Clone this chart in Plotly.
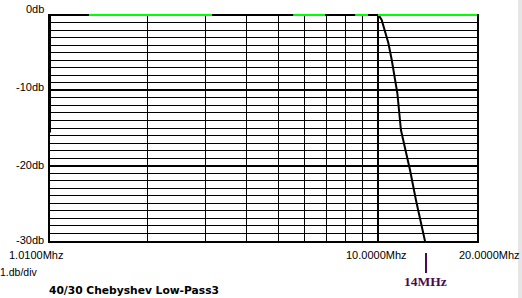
import math
import plotly.graph_objects as go

# ---------------- data ----------------
curve_freq_mhz = [1.01, 3.0, 6.0, 9.0, 10.05, 10.27, 10.51, 10.76, 11.02, 11.46, 11.75, 12.52, 13.05, 13.95]
curve_db = [0.0, 0.0, 0.0, 0.0, 0.0, -0.66, -2.22, -3.72, -5.97, -10.39, -15.27, -20.58, -24.56, -30.3]

# 0 db reference (green) segments
green_start_mhz = [1.326, 5.53, 8.53, 10.01]
green_end_mhz = [3.136, 6.91, 9.34, 20.0]

freq_min, freq_max = 1.01, 20.0
db_min, db_max = -30, 0

x_minor_grid = [2, 3, 4, 5, 6, 7, 8, 9]
x_major_grid = [10]
y_major_grid = [-10, -20]
y_minor_grid = [d for d in range(-29, 0) if d not in (-10, -20)]

y_tick_values = [0, -10, -20, -30]
y_tick_labels = ["0db", "-10db", "-20db", "-30db"]
x_tick_labels = ["1.0100Mhz", "10.0000Mhz", "20.0000Mhz"]
scale_text = "1.db/div"
title_text = "40/30 Chebyshev Low-Pass3"
marker_freq = 14
marker_text = "14MHz"

# ---------------- figure ----------------
W, H = 522, 298
L, R, T, B = 50, 45, 14, 57
pw, ph = W - L - R, H - T - B
px_per_db = (ph) / 30.1327
top_ext = (15 - T) / px_per_db

fig = go.Figure()

# thick upper part of left border (half-clipped, adds inner pixel)
fig.add_trace(go.Scatter(x=[freq_min, freq_min], y=[0, -15.6], mode="lines",
                         line=dict(color="black", width=2), hoverinfo="skip", showlegend=False))

# black response curve
fig.add_trace(go.Scatter(x=curve_freq_mhz, y=curve_db, mode="lines",
                         line=dict(color="black", width=2), hoverinfo="skip", showlegend=False))

# green 0 db segments
gx, gy = [], []
for a, b in zip(green_start_mhz, green_end_mhz):
    gx += [a, b, None]
    gy += [0, 0, None]
fig.add_trace(go.Scatter(x=gx, y=gy, mode="lines", line=dict(color="#00ff00", width=2),
                         hoverinfo="skip", showlegend=False))

annotations = []
font_lbl = dict(family="Liberation Sans", size=11, color="black")
y_label_px = [9, 87, 165, 240.5]
for v, t, py in zip(y_tick_values, y_tick_labels, y_label_px):
    ref_px = 15 + (-v) * px_per_db
    annotations.append(dict(xref="paper", yref="y", x=0, y=v, xanchor="right", yanchor="middle",
                            xshift=-6, yshift=ref_px - py, text=t, showarrow=False, font=font_lbl,
                            borderpad=0, borderwidth=0))

def px2paper_x(px):
    return (px - L) / pw

def py2paper_y(py):
    return (T + ph - py) / ph

x_label_spec = [(63, "right"), (376.5, "center"), (520, "right")]
for t, (px, anc) in zip(x_tick_labels, x_label_spec):
    annotations.append(dict(xref="paper", yref="paper", x=px2paper_x(px), y=py2paper_y(255),
                            xanchor=anc, yanchor="middle", text=t, showarrow=False, font=font_lbl,
                            borderpad=0, borderwidth=0))

annotations.append(dict(xref="paper", yref="paper", x=px2paper_x(0), y=py2paper_y(272),
                        xanchor="left", yanchor="middle", text=scale_text, showarrow=False,
                        font=dict(family="Liberation Sans", size=10.5, color="black"),
                        borderpad=0, borderwidth=0))
annotations.append(dict(xref="paper", yref="paper", x=px2paper_x(49), y=py2paper_y(290),
                        xanchor="left", yanchor="middle", text="<b>" + title_text + "</b>",
                        showarrow=False,
                        font=dict(family="DejaVu Sans", size=10.7, color="black"),
                        borderpad=0, borderwidth=0))
purple = "#4a0a50"
annotations.append(dict(xref="x", yref="paper", x=math.log10(marker_freq), y=py2paper_y(281),
                        xanchor="center", yanchor="middle", text="<b>" + marker_text + "</b>",
                        showarrow=False,
                        font=dict(family="Liberation Serif", size=13.5, color=purple),
                        borderpad=0, borderwidth=0))

shapes = [
    dict(type="line", xref="x", yref="paper", x0=marker_freq, x1=marker_freq,
         y0=py2paper_y(253), y1=py2paper_y(273), line=dict(color=purple, width=2)),
    dict(type="rect", xref="paper", yref="paper", x0=px2paper_x(518), x1=px2paper_x(523),
         y0=py2paper_y(299), y1=py2paper_y(-1), fillcolor="#e6e6e6", line=dict(width=0), layer="below"),
]

fig.update_layout(
    width=W, height=H,
    margin=dict(l=L, r=R, t=T, b=B, pad=0),
    paper_bgcolor="white", plot_bgcolor="white",
    showlegend=False,
    annotations=annotations, shapes=shapes,
    xaxis=dict(type="log", range=[math.log10(freq_min), math.log10(freq_max)],
               showticklabels=False, ticks="", zeroline=False,
               showline=True, linewidth=2, linecolor="black", mirror=False,
               tickmode="array", tickvals=x_major_grid, showgrid=True, gridcolor="black", gridwidth=2,
               minor=dict(tickmode="array", tickvals=x_minor_grid, showgrid=True,
                          gridcolor="black", gridwidth=1, ticks="")),
    yaxis=dict(range=[db_min, top_ext], showticklabels=False, ticks="", zeroline=False,
               showline=True, linewidth=2, linecolor="black", mirror=True,
               tickmode="array", tickvals=y_major_grid, showgrid=True, gridcolor="black", gridwidth=2,
               minor=dict(tickmode="array", tickvals=y_minor_grid, showgrid=True,
                          gridcolor="black", gridwidth=1, ticks="")),
)

fig.write_html("out.html")
